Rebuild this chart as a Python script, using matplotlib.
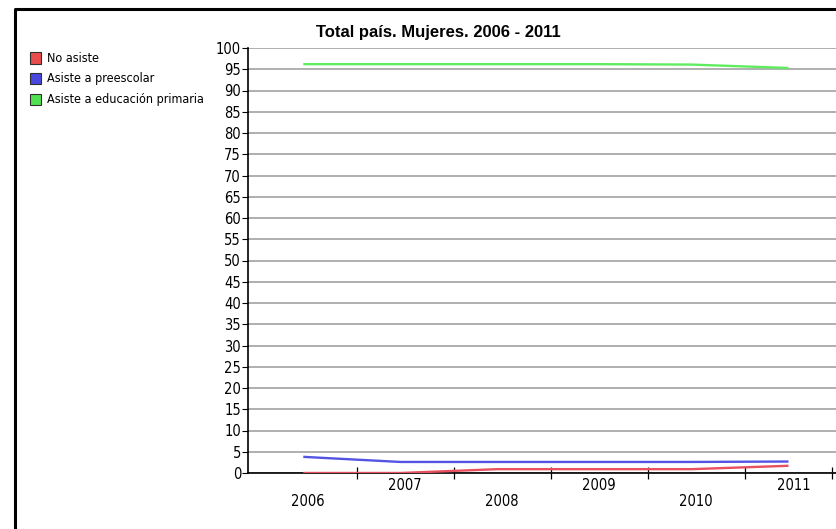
#!/usr/bin/env python3
"""Total pais. Mujeres. 2006 - 2011 -- asistencia escolar (line chart)."""

import matplotlib

matplotlib.use("Agg")
import matplotlib.pyplot as plt
from matplotlib import font_manager as fm
from matplotlib.lines import Line2D
from matplotlib.patches import Rectangle

years = ["2006", "2007", "2008", "2009", "2010", "2011"]
series_names = ["No asiste", "Asiste a preescolar", "Asiste a educación primaria"]
no_asiste = [0.0, 0.0, 0.9, 0.9, 0.9, 1.7]
preescolar = [3.8, 2.6, 2.6, 2.6, 2.6, 2.7]
primaria = [96.2, 96.2, 96.2, 96.2, 96.1, 95.3]
series_values = [no_asiste, preescolar, primaria]
line_colors = ["#e8505e", "#5454e4", "#60ec60"]
box_colors = ["#e84c4c", "#4848e0", "#50e050"]
y_ticks = list(range(0, 101, 5))
title = "Total país. Mujeres. 2006 - 2011"


def narrow_font(size):
    # look for a condensed / narrow regular face; fall back to Liberation Sans
    for f in fm.fontManager.ttflist:
        name = f.fname.lower()
        if ("narrow" in name or "condensed" in name) and "bold" not in name \
                and "oblique" not in name and "italic" not in name and "light" not in name:
            return fm.FontProperties(fname=f.fname, size=size)
    return fm.FontProperties(family="Liberation Sans", size=size * 0.88)


W, H = 837, 529
fig = plt.figure(figsize=(W / 100, H / 100), dpi=100)
fig.patch.set_facecolor("white")


def fx(px):
    return px / W


def fy(py):
    return 1 - py / H


tick_fp = narrow_font(10.5)
leg_fp = narrow_font(9)

ax = fig.add_axes([fx(248), fy(473), fx(837) - fx(248), fy(48) - fy(473)])
ax.set_xlim(-0.57, 5.5)
ax.set_ylim(0, 100)

for vals, col in zip(series_values, line_colors):
    ax.plot(range(len(years)), vals, color=col, lw=1.7, solid_capstyle="butt", zorder=3)

# grid
ax.set_yticks(y_ticks)
ax.set_yticklabels([str(v) for v in y_ticks], fontproperties=tick_fp)
ax.yaxis.grid(True, color="#9a9a9a", lw=1.1)
ax.set_axisbelow(True)
ax.tick_params(axis="y", length=4, width=0.8, pad=1, colors="black")

# x axis: staggered labels, tick marks between categories
ax.set_xticks([i + 0.05 for i in range(len(years))])
ax.set_xticklabels([])
ax.tick_params(axis="x", which="major", length=0)
ax.set_xticks([i + 0.55 for i in range(len(years) - 1)] + [5.45], minor=True)
ax.tick_params(axis="x", which="minor", length=8, width=0.9, direction="inout")
for i, yr in enumerate(years):
    off = 12 if i % 2 else 28
    ax.annotate(yr, xy=(i + 0.05, 0), xycoords="data", xytext=(0, -off),
                textcoords="offset pixels", ha="center", va="center",
                fontproperties=tick_fp)

for s in ["top", "right"]:
    ax.spines[s].set_visible(False)
ax.spines["left"].set_linewidth(1.2)
ax.spines["bottom"].set_linewidth(1.2)

fig.text(fx(438), fy(33), title, ha="center", va="center",
         family="Liberation Sans", fontweight="bold", fontsize=12)

# legend
for k, (name, col) in enumerate(zip(series_names, box_colors)):
    yc = 58 + k * 20.5
    fig.patches.append(Rectangle((fx(30), fy(yc + 5.5)), fx(11), fy(yc - 5.5) - fy(yc + 5.5),
                                 transform=fig.transFigure, facecolor=col,
                                 edgecolor="#303030", lw=0.8))
    fig.text(fx(47), fy(yc), name, ha="left", va="center", fontproperties=leg_fp)

# outer frame (left and top edges)
fig.lines.append(Line2D([fx(15), fx(15), fx(840)], [fy(535), fy(9), fy(9)],
                        transform=fig.transFigure, color="black", lw=2.2))

fig.savefig("out.png", dpi=100)
